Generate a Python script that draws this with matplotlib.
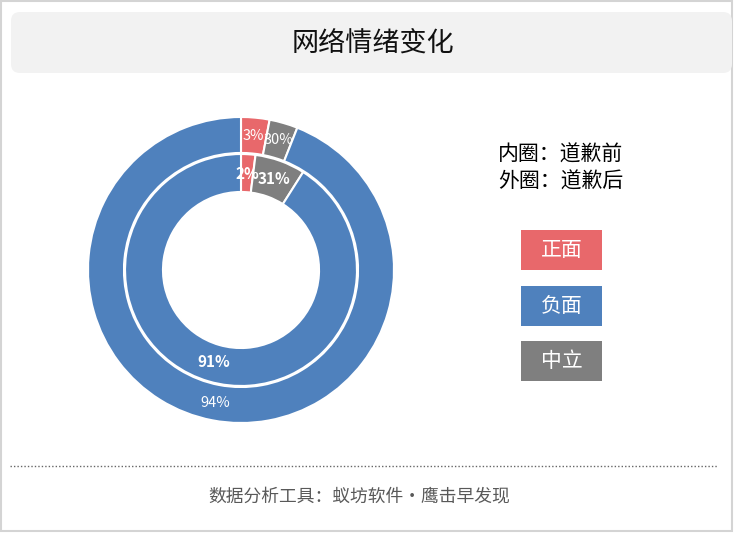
import matplotlib
matplotlib.use('Agg')
import matplotlib.pyplot as plt
from matplotlib.patches import FancyBboxPatch, Rectangle

plt.rcParams['font.family'] = ['Noto Sans CJK SC', 'DejaVu Sans']

title = '网络情绪变化'
categories = ['正面', '负面', '中立']
before = [2, 91, 7]      # inner ring: 道歉前
after = [3, 94, 3]       # outer ring: 道歉后
before_labels = ['2%', '91%', '31%']
after_labels = ['3%', '94%', '30%']
ring_notes = ['内圈：道歉前', '外圈：道歉后']
footer = '数据分析工具：蚁坊软件·鹰击早发现'

colors = ['#E8686B', '#4F81BD', '#7F7F7F']
# slice order around the ring: 正面, 中立, 负面 (clockwise from top)
order = [0, 2, 1]

W, H = 735, 533
fig = plt.figure(figsize=(W / 100, H / 100), dpi=100)

# background axes in pixel coords
bg = fig.add_axes([0, 0, 1, 1])
bg.set_xlim(0, W)
bg.set_ylim(H, 0)
bg.axis('off')

bg.add_patch(Rectangle((1, 1), 731, 530, fill=False, ec='#d4d4d4', lw=1.5))
bg.add_patch(FancyBboxPatch((11, 12), 721, 61, boxstyle='round,pad=0,rounding_size=9',
                            fc='#f2f2f2', ec='none'))
bg.text(373, 43, title, ha='center', va='center', fontsize=19.5, color='#111111')

for i, note in enumerate(ring_notes):
    bg.text(561, 155 + i * 27, note, ha='center', va='center', fontsize=15, color='black')

for i, cat in enumerate(categories):
    y0 = 230 + i * 55.5
    bg.add_patch(Rectangle((521, y0), 81, 40, fc=colors[i], ec='none'))
    bg.text(561.5, y0 + 20, cat, ha='center', va='center', fontsize=15, color='white')

bg.plot([10, 717], [466, 466], ls=(0, (1, 1.5)), color='#666666', lw=1)
bg.text(359, 496, footer, ha='center', va='center', fontsize=12.8, color='#595959')

# donut axes
cx, cy, R = 241, 270, 153
ax = fig.add_axes([(cx - R) / W, (H - cy - R) / H, 2 * R / W, 2 * R / H])

w_out, _, t_out = ax.pie([after[i] for i in order], radius=1,
                         colors=[colors[i] for i in order], startangle=90, counterclock=False,
                         autopct='%d', pctdistance=0.882,
                         wedgeprops=dict(width=0.235, edgecolor='white', linewidth=1.5))
w_in, _, t_in = ax.pie([before[i] for i in order], radius=0.758,
                       colors=[colors[i] for i in order], startangle=90, counterclock=False,
                       autopct='%d', pctdistance=0.83,
                       wedgeprops=dict(width=0.248, edgecolor='white', linewidth=1.5))

for t, i in zip(t_out, order):
    t.set_text(after_labels[i])
    t.set_color('white')
    t.set_fontsize(10.5)
for t, i in zip(t_in, order):
    t.set_text(before_labels[i])
    t.set_color('white')
    t.set_fontsize(11)
    t.set_fontweight('bold')

ax.set_xlim(-1, 1)
ax.set_ylim(-1, 1)
ax.set_aspect('auto')
ax.axis('off')

fig.savefig('out.png', dpi=100)
